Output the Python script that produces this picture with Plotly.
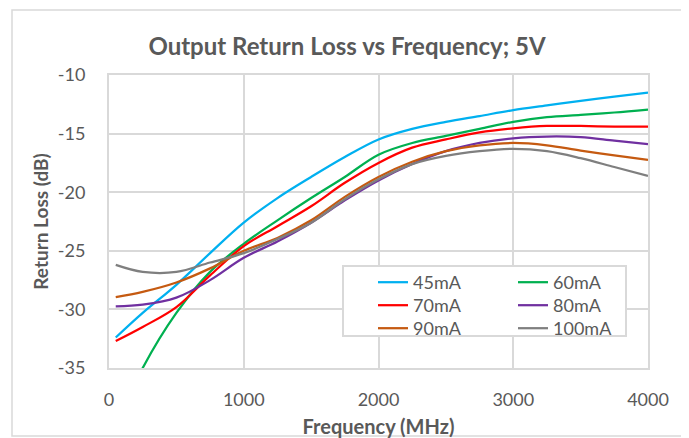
import plotly.graph_objects as go

freq = [50, 250, 500, 750, 1000, 1250, 1500, 1750, 2000, 2250, 2500, 2750, 3000, 3250, 3500, 3750, 4000]

rl_45mA = [-32.4, -30.3, -27.9, -25.2, -22.6, -20.5, -18.7, -17.0, -15.5, -14.6, -14.0, -13.5, -13.0, -12.6, -12.2, -11.85, -11.5]
rl_60mA = [-40.0, -35.0, -30.3, -26.8, -24.4, -22.4, -20.5, -18.7, -16.8, -15.8, -15.2, -14.6, -14.0, -13.6, -13.4, -13.2, -12.95]
rl_70mA = [-32.7, -31.5, -29.8, -27.1, -24.6, -22.9, -21.2, -19.2, -17.5, -16.2, -15.5, -14.9, -14.55, -14.35, -14.35, -14.4, -14.4]
rl_80mA = [-29.75, -29.6, -29.0, -27.5, -25.6, -24.2, -22.6, -20.7, -19.0, -17.6, -16.5, -15.8, -15.4, -15.25, -15.3, -15.6, -15.9]
rl_90mA = [-28.95, -28.5, -27.7, -26.5, -25.0, -23.9, -22.4, -20.4, -18.7, -17.4, -16.5, -16.0, -15.8, -16.0, -16.45, -16.85, -17.25]
rl_100mA = [-26.2, -26.8, -26.8, -26.0, -25.2, -24.0, -22.6, -20.6, -18.9, -17.6, -16.9, -16.5, -16.3, -16.5, -17.1, -17.85, -18.6]

series_names = ["45mA", "60mA", "70mA", "80mA", "90mA", "100mA"]
series_values = [rl_45mA, rl_60mA, rl_70mA, rl_80mA, rl_90mA, rl_100mA]
series_colors = ["#00b0f0", "#00b050", "#ff0000", "#7030a0", "#c55a11", "#7f7f7f"]

x_ticks = [0, 1000, 2000, 3000, 4000]
y_ticks = [-35, -30, -25, -20, -15, -10]

FONT = "Lato"
GRAY = "#595959"

# page offset (browser body margin)
OFF = 8
W, H = 689 - OFF, 438 - OFF
# plot area in page pixels
L, R, T, B = 109, 648, 75, 368
pw, ph = R - L, B - T

def px_x(p):
    return (p - L) / pw

def px_y(p):
    return (B - p) / ph

legend_common = dict(
    font=dict(family=FONT, size=18, color=GRAY),
    bgcolor="rgba(0,0,0,0)", borderwidth=0,
    orientation="v", xanchor="left", yanchor="top",
    tracegroupgap=0, itemwidth=30, visible=True,
)

# one legend per entry: 2 columns x 3 rows
col_x = [373, 513]
row_top = [264, 287, 310]
legend_ids = ["legend"] + ["legend%d" % i for i in range(2, 7)]
legend_layout = {}
for i, lid in enumerate(legend_ids):
    legend_layout[lid] = dict(x=px_x(col_x[i % 2]), y=px_y(row_top[i // 2]), **legend_common)

fig = go.Figure()
for name, vals, col, lg in zip(series_names, series_values, series_colors, legend_ids):
    fig.add_trace(go.Scatter(
        x=freq, y=vals, name=name, mode="lines", showlegend=True,
        line=dict(color=col, width=2.25, shape="spline", smoothing=1.0),
        legend=lg,
    ))

fig.update_layout(
    width=W, height=H, showlegend=True,
    margin=dict(l=L - OFF, r=689 - R, t=T - OFF, b=438 - B, pad=0, autoexpand=False),
    paper_bgcolor="white", plot_bgcolor="white",
    font=dict(family=FONT, color=GRAY),
    title=dict(text="<b>Output Return Loss vs Frequency; 5V</b>",
               x=(347 - OFF) / W, xanchor="center", y=1 - (47 - OFF) / H, yanchor="middle",
               font=dict(family=FONT, size=24, color=GRAY)),
    xaxis=dict(range=[0, 4000], tickvals=x_ticks, ticktext=[str(v) for v in x_ticks],
               automargin=False,
               showgrid=True, gridcolor="#d9d9d9", gridwidth=2,
               showline=True, linecolor="#d9d9d9", linewidth=2, mirror=True,
               zeroline=False, ticks="", ticklabelstandoff=14,
               tickfont=dict(family=FONT, size=18, color=GRAY),
               title=dict(text="<b>Frequency (MHz)</b>", standoff=18,
                          font=dict(family=FONT, size=20, color=GRAY))),
    yaxis=dict(range=[-35, -10], tickvals=y_ticks, ticktext=[str(v) for v in y_ticks],
               automargin=False,
               showgrid=True, gridcolor="#d9d9d9", gridwidth=2,
               showline=True, linecolor="#d9d9d9", linewidth=2, mirror=True,
               zeroline=False, ticks="", ticklabelstandoff=18,
               tickfont=dict(family=FONT, size=18, color=GRAY),
               title=dict(text="<b>Return Loss (dB)</b>", standoff=4,
                          font=dict(family=FONT, size=19, color=GRAY))),
    shapes=[
        dict(type="rect", xref="paper", yref="paper",
             x0=px_x(12), x1=px_x(686), y0=px_y(436), y1=px_y(10),
             line=dict(color="#d9d9d9", width=1.5), fillcolor="rgba(0,0,0,0)", layer="below"),
        dict(type="rect", xref="paper", yref="paper",
             x0=px_x(343), x1=px_x(626), y0=px_y(336), y1=px_y(266),
             line=dict(color="#d9d9d9", width=2), fillcolor="white", layer="above"),
    ],
    **legend_layout,
)

fig.write_html("out.html")
